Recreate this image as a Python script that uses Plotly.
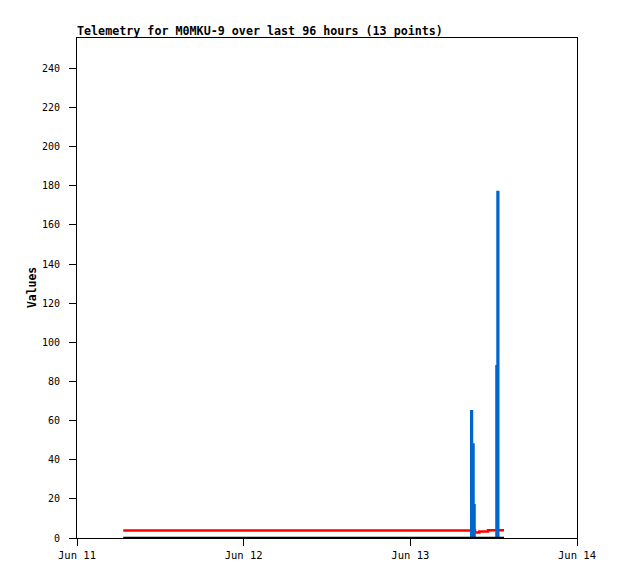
import plotly.graph_objects as go

# ---- data ----
times = [
    "2024-06-11 06:40", "2024-06-13 08:42", "2024-06-13 08:57", "2024-06-13 09:10",
    "2024-06-13 09:19", "2024-06-13 09:56", "2024-06-13 10:30", "2024-06-13 11:11",
    "2024-06-13 11:48", "2024-06-13 12:20", "2024-06-13 12:29", "2024-06-13 12:44",
    "2024-06-13 13:29",
]
series_blue = [0, 65, 48, 17, 0, 0, 0, 0, 0, 88, 177, 0, 0]
series_red = [3.8, 3.8, 3.8, 3.8, 2.8, 3.3, 3.3, 4.0, 4.0, 4.0, 4.0, 4.0, 4.0]
series_black = [0] * 13
x_ticks = ["2024-06-11", "2024-06-12", "2024-06-13", "2024-06-14"]
x_tick_labels = ["Jun 11", "Jun 12", "Jun 13", "Jun 14"]
y_ticks = list(range(0, 241, 20))
title_text = "Telemetry for M0MKU-9 over last 96 hours (13 points)"
y_title = "Values"

MONO = "DejaVu Sans Mono"

fig = go.Figure()
fig.add_trace(go.Scatter(
    x=times, y=series_red, mode="lines", line_shape="hv",
    line=dict(color="#ff0000", width=2.5), hoverinfo="skip", showlegend=False))
fig.add_trace(go.Scatter(
    x=times, y=series_blue, mode="lines", line_shape="hv",
    line=dict(color="#0066cc", width=1.5), fill="tozeroy", fillcolor="#0066cc",
    hoverinfo="skip", showlegend=False))
fig.add_trace(go.Scatter(
    x=times, y=series_black, mode="lines", line_shape="hv",
    line=dict(color="#000000", width=2.5), hoverinfo="skip", showlegend=False))

fig.update_layout(
    width=618, height=579,
    margin=dict(l=69, r=49, t=30, b=49),
    paper_bgcolor="white", plot_bgcolor="white",
    font=dict(family=MONO, size=10, color="#000000"),
    showlegend=False,
    annotations=[
        dict(text="<b>%s</b>" % title_text, xref="paper", yref="paper",
             x=0, y=1, xanchor="left", yanchor="bottom", yshift=-2, xshift=-2,
             showarrow=False, font=dict(family=MONO, size=11.7, color="#000000")),
        dict(text="<b>%s</b>" % y_title, xref="paper", yref="paper",
             x=-0.09, y=0.5, xanchor="center", yanchor="middle", textangle=-90,
             showarrow=False, font=dict(family=MONO, size=11.4, color="#000000")),
    ],
)
fig.update_xaxes(
    type="date", range=["2024-06-11", "2024-06-14"],
    tickvals=x_ticks, ticktext=x_tick_labels,
    ticks="outside", ticklen=7, tickcolor="#000000", tickwidth=1,
    showline=True, linecolor="#000000", linewidth=1, mirror=True,
    showgrid=False, zeroline=False, ticklabelstandoff=0,
    tickfont=dict(family=MONO, size=10.5, color="#000000"),
)
fig.update_yaxes(
    range=[0, 255.5], tickvals=y_ticks,
    ticks="outside", ticklen=7, tickcolor="#000000", tickwidth=1,
    showline=True, linecolor="#000000", linewidth=1, mirror=True,
    showgrid=False, zeroline=False, ticklabelstandoff=7,
    tickfont=dict(family=MONO, size=10, color="#000000"),
)

fig.write_html("out.html")
